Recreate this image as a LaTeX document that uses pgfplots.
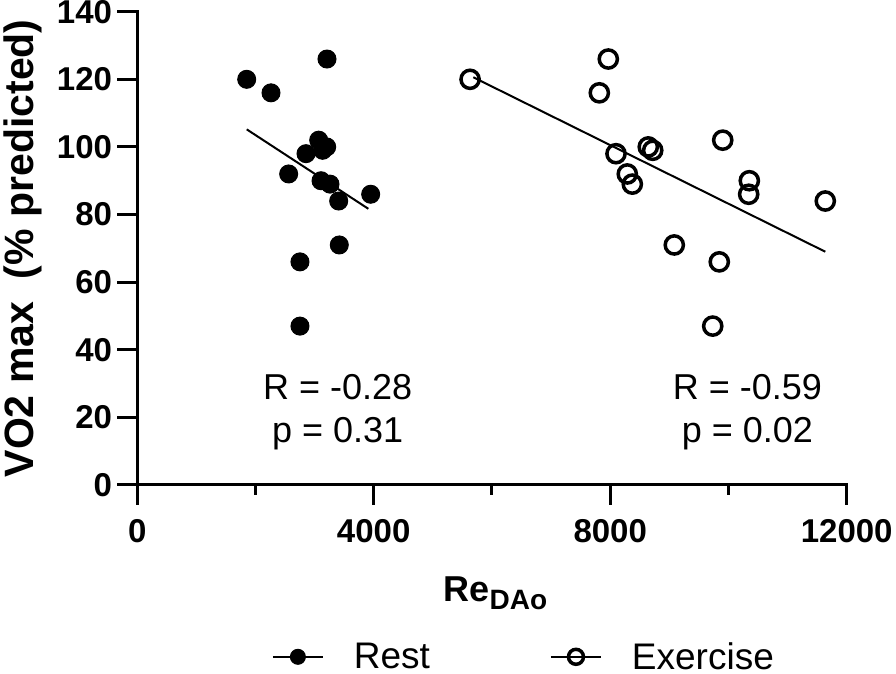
\documentclass[border=0pt]{standalone}
\usepackage{pgfplots}
\pgfplotsset{compat=1.18}
\usepackage{fontspec}
\setmainfont{Liberation Sans}
\begin{document}
\begin{tikzpicture}
\useasboundingbox (0,0) rectangle (896pt,674pt);
\begin{axis}[
  at={(137.2pt,189pt)}, anchor=south west,
  scale only axis, width=709.5pt, height=473.3pt,
  xmin=0, xmax=12000, ymin=0, ymax=140,
  axis lines=left, axis line style={-, line width=3pt, line cap=rect},
  tick align=outside,
  xtick={0,4000,8000,12000}, minor xtick={2000,6000,10000},
  ytick={0,20,...,140},
  major tick length=20pt, minor tick length=10pt,
  every tick/.style={black, line width=3pt},
  scaled x ticks=false,
  /pgf/number format/1000 sep={},
  /pgf/number format/assume math mode=true,
  ticklabel style={font=\fontsize{33}{33}\selectfont\bfseries},
  xticklabel style={inner sep=14pt},
  yticklabel style={inner xsep=5pt, inner ysep=0pt},
  xlabel={Re\raisebox{-0.22em}{\fontsize{28}{28}\selectfont DAo}},
  xlabel style={font=\fontsize{36}{36}\selectfont\bfseries, at={(axis description cs:0.505,-0.2467)}, anchor=base},
  ylabel={VO2 max\ \ (\% predicted)},
  ylabel style={font=\fontsize{41}{41}\selectfont\bfseries, at={(axis description cs:-0.1455,0.5)}, anchor=base},
  clip=false,
  legend columns=2,
  legend style={draw=none, at={(axis description cs:0.545,-0.363)}, anchor=center,
    font=\fontsize{37}{37}\selectfont, inner sep=0pt,
    nodes={inner ysep=0pt},
    /tikz/every odd column/.append style={column sep=28pt},
    /tikz/every even column/.append style={column sep=118pt}},
  legend image code/.code={
    \draw[#1, sharp plot, line width=2pt, mark size=7.5pt, mark repeat=2, mark phase=2]
      plot coordinates {(0pt,0pt) (25pt,0pt) (50pt,0pt)};
  },
]
\addplot[only marks, mark=*, mark size=9pt, mark options={line width=1pt, fill=black, draw=black}] coordinates {
(3210,126) (1852,120) (2263,116) (3070,102) (3205,100) (3137,99) (2855,98)
(2562,92) (3109,90) (3261,89) (3408,84) (3949,86) (3418,71) (2753,66) (2753,47)
};
\addlegendentry{Rest}
\addplot[only marks, mark=o, mark size=9.1pt, mark options={line width=3.5pt, draw=black}] coordinates {
(5630,120) (7968,126) (7816,116) (9903,102) (8644,100) (8719,99) (8098,98)
(8289,92) (8374,89) (10353,90) (10342,86) (11638,84) (9084,71) (9845,66) (9734,47)
};
\addlegendentry{Exercise}
\addplot[black, line width=2pt, forget plot] coordinates {(1852,105.2) (3909,81.7)};
\addplot[black, line width=2pt, forget plot] coordinates {(5685,120.6) (11638,69.0)};
\node[anchor=base, font=\fontsize{36}{36}\selectfont] at (axis cs:3390,25.4) {R = -0.28};
\node[anchor=base, font=\fontsize{36}{36}\selectfont] at (axis cs:3390,12.7) {p = 0.31};
\node[anchor=base, font=\fontsize{36}{36}\selectfont] at (axis cs:10322,25.4) {R = -0.59};
\node[anchor=base, font=\fontsize{36}{36}\selectfont] at (axis cs:10322,12.7) {p = 0.02};
\end{axis}
\end{tikzpicture}
\end{document}
